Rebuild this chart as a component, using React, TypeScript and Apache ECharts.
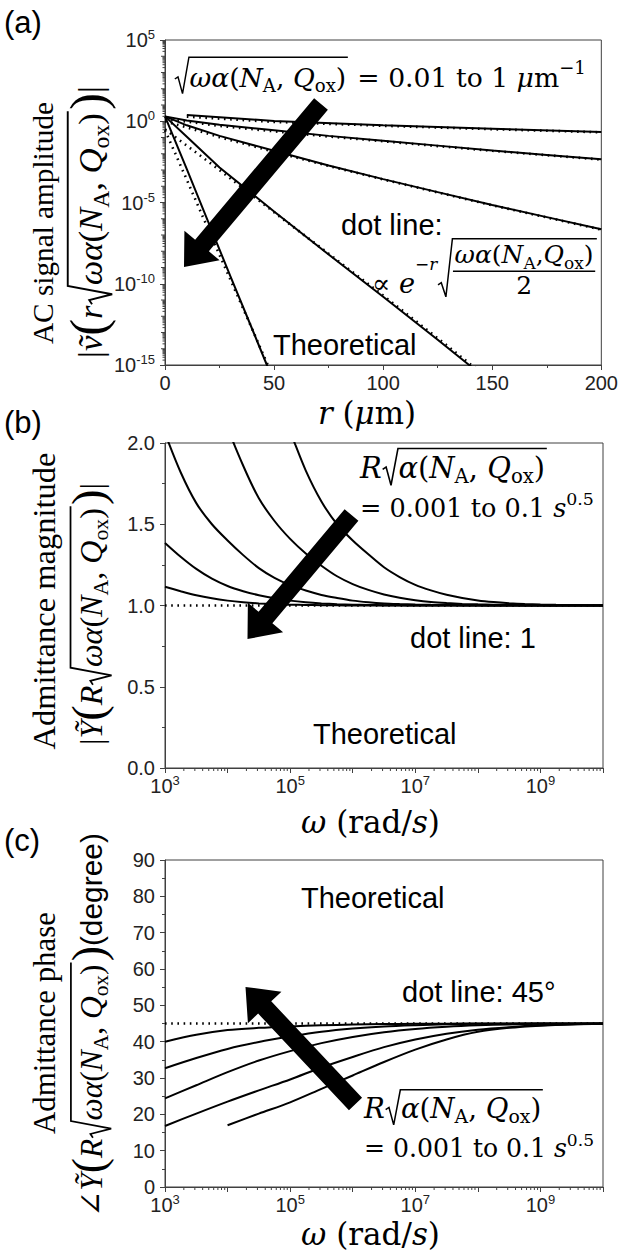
import React, { useEffect, useRef } from 'react';
import * as echarts from 'echarts';

const SERIF = "'DejaVu Serif', 'Liberation Serif', serif";
const TSERIF = "'Liberation Serif', 'DejaVu Serif', serif";
const SANS = "'Liberation Sans', Arial, sans-serif";
const INK = '#000000';
const AXIS = '#404040';
const LABEL = '#222222';

// ---------------- Panel (a): AC signal amplitude vs r ----------------
// r in μm, amplitude as log10 value
const aSolidR_k1 = [0, 10, 20, 30, 40, 46.7, 50];
const aSolidL_k1 = [0.3, -2.95, -6.25, -9.55, -12.8, -15, -16.1];
const aSolidR_k0316 = [0, 10, 25, 50, 75, 100, 125, 139.4, 150];
const aSolidL_k0316 = [0.3, -0.95, -2.85, -5.55, -8.2, -10.8, -13.45, -15, -16.1];
const aSolidR_k01 = [0, 10, 25, 50, 75, 100, 125, 150, 175, 200];
const aSolidL_k01 = [0.3, -0.25, -0.9, -1.82, -2.72, -3.56, -4.36, -5.15, -5.9, -6.65];
const aSolidR_k00316 = [0, 10, 25, 50, 75, 100, 125, 150, 175, 200];
const aSolidL_k00316 = [0.3, 0.05, -0.22, -0.56, -0.9, -1.2, -1.5, -1.8, -2.07, -2.34];
const aSolidR_k001 = [10, 50, 100, 150, 200];
const aSolidL_k001 = [0.38, 0.02, -0.24, -0.46, -0.66];

const aDotR_k1 = [0, 10, 20, 30, 40, 50];
const aDotL_k1 = [-0.55, -3.6, -6.7, -9.75, -12.8, -15.9];
const aDotR_k0316 = [0, 25, 50, 75, 100, 125, 140, 150];
const aDotL_k0316 = [-0.5, -3.0, -5.6, -8.15, -10.72, -13.35, -14.95, -15.95];
const aDotR_k01 = [0, 10, 25, 50, 75, 100, 125, 150, 175, 200];
const aDotL_k01 = [0.0, -0.38, -0.98, -1.88, -2.75, -3.58, -4.38, -5.17, -5.92, -6.67];
const aDotR_k00316 = [0, 10, 25, 50, 75, 100, 125, 150, 175, 200];
const aDotL_k00316 = [0.12, -0.02, -0.29, -0.62, -0.94, -1.23, -1.53, -1.82, -2.09, -2.36];
const aDotR_k001 = [10, 50, 100, 150, 200];
const aDotL_k001 = [0.28, -0.04, -0.28, -0.49, -0.68];

// ---------------- Panel (b): admittance magnitude vs ω ----------------
const bOmega = [1e3, 1.778e3, 3.162e3, 5.623e3, 1e4, 1.778e4, 3.162e4, 5.623e4, 1e5, 1.778e5, 3.162e5, 5.623e5,
  1e6, 1.778e6, 3.162e6, 5.623e6, 1e7, 1.778e7, 3.162e7, 5.623e7, 1e8, 1.778e8, 3.162e8, 5.623e8,
  1e9, 1.778e9, 3.162e9, 5.623e9, 1e10];
const bMag_01 = [null, null, null, null, null, null, null, 2.3, 2.07, 1.83, 1.64, 1.5, 1.40, 1.315, 1.235, 1.175,
  1.127, 1.093, 1.066, 1.046, 1.031, 1.021, 1.014, 1.009, 1.006, 1.004, 1.003, 1.002, 1.001];
const bMag_00316 = [null, null, null, 2.45, 2.1, 1.86, 1.66, 1.52, 1.41, 1.32, 1.245, 1.18, 1.132, 1.096, 1.068,
  1.048, 1.033, 1.022, 1.015, 1.01, 1.007, 1.005, 1.003, 1.002, 1.001, 1.0, 1.0, 1.0, 1.0];
const bMag_001 = [2.06, 1.82, 1.63, 1.5, 1.40, 1.31, 1.23, 1.17, 1.125, 1.092, 1.065, 1.046, 1.03, 1.02, 1.013,
  1.009, 1.006, 1.004, 1.003, 1.002, 1.001, 1.0, 1.0, 1.0, 1.0, 1.0, 1.0, 1.0, 1.0];
const bMag_000316 = [1.385, 1.30, 1.225, 1.165, 1.12, 1.088, 1.063, 1.044, 1.03, 1.02, 1.013, 1.008, 1.005, 1.003,
  1.002, 1.001, 1.0, 1.0, 1.0, 1.0, 1.0, 1.0, 1.0, 1.0, 1.0, 1.0, 1.0, 1.0, 1.0];
const bMag_0001 = [1.115, 1.088, 1.063, 1.044, 1.03, 1.02, 1.013, 1.008, 1.005, 1.003, 1.002, 1.001, 1.0, 1.0,
  1.0, 1.0, 1.0, 1.0, 1.0, 1.0, 1.0, 1.0, 1.0, 1.0, 1.0, 1.0, 1.0, 1.0, 1.0];
const bDotOmega = [1e3, 1e10];
const bDotValue = [1, 1];

// ---------------- Panel (c): admittance phase vs ω ----------------
const cOmega = [1e3, 3.162e3, 1e4, 3.162e4, 1e5, 3.162e5, 1e6, 3.162e6, 1e7, 3.162e7, 1e8, 3.162e8, 1e9, 3.162e9, 1e10];
const cPh_0001 = [40.0, 41.9, 43.2, 43.8, 44.2, 44.5, 44.7, 44.85, 44.92, 44.96, 45, 45, 45, 45, 45];
const cPh_000316 = [32.7, 35.5, 38.0, 39.9, 41.4, 42.7, 43.6, 44.2, 44.55, 44.8, 44.9, 44.95, 45, 45, 45];
const cPh_001 = [24.4, 28.0, 31.6, 34.8, 37.4, 39.6, 41.3, 42.6, 43.5, 44.1, 44.5, 44.75, 44.9, 44.95, 45];
const cPh_00316 = [16.8, 20.2, 23.5, 26.6, 29.6, 32.9, 35.8, 38.5, 40.6, 42.2, 43.3, 44.0, 44.5, 44.8, 44.9];
const cPh_01 = [null, null, 17.0, 20.2, 23.3, 27.0, 30.7, 34.4, 37.8, 40.6, 42.7, 43.8, 44.4, 44.75, 44.9];
const cDotOmega = [1e3, 1e10];
const cDotValue = [45, 45];

// ---------------- text measurement / tiny math layout ----------------
let _ctx: CanvasRenderingContext2D | null = null;
function measure(text: string, font: string): number {
  if (!_ctx) _ctx = document.createElement('canvas').getContext('2d');
  _ctx!.font = font;
  return _ctx!.measureText(text).width;
}

type MN = any;
const T = (t: string, o: any = {}) => ({ k: 't', t, ...o });
const I = (t: string, o: any = {}) => ({ k: 't', t, it: true, ...o });
const SUB = (t: string, f = 1) => ({ k: 't', t, s: 0.68 * f, dy: 0.2 * f });
const SUP = (t: string, o: any = {}) => ({ k: 't', t, s: 0.68, dy: -0.45, ...o });
const SQRT = (c: MN[], o: any = {}) => ({ k: 'sqrt', c, ...o });
const FRAC = (n: MN[], dn: MN[], o: any = {}) => ({ k: 'frac', n, dn, ...o });
const radicand = (f = 1, sep = ', ', withOmega = true) => [
  ...(withOmega ? [I('ω', { s: f })] : []),
  I('α', { s: f }), T('(', { s: f }), I('N', { s: f }), SUB('A', f), T(sep, { s: f }), I('Q', { s: f }), SUB('ox', f), T(')', { s: f }),
];

function lay(nodes: MN[], S: number, x: number, B: number, out: any[] | null, fam: string): number {
  const lw = Math.max(1.1, 0.055 * S);
  for (const n of nodes) {
    if (n.k === 't') {
      const size = S * (n.s ?? 1);
      const font = `${n.it ? 'italic ' : ''}${size.toFixed(2)}px ${n.ff ?? fam}`;
      const w = measure(n.t, font);
      if (out) {
        out.push({
          type: 'text', x, y: B + (n.dy ?? 0) * S - 0.35 * size, z: 100, silent: true,
          style: { text: n.t, font, fill: INK, align: 'left', verticalAlign: 'middle', textAlign: 'left', textVerticalAlign: 'middle' },
        });
      }
      x += w;
    } else if (n.k === 'sp') {
      x += n.w * S;
    } else if (n.k === 'sqrt') {
      const rw = 0.58 * S;
      const xe = lay(n.c, S, x + rw, B, out, fam);
      const top = B - (n.h ?? 0.98) * S;
      const bot = B + (n.d ?? 0.22) * S;
      if (out) {
        out.push({
          type: 'polyline', z: 100, silent: true,
          shape: { points: [[x + 0.03 * S, B - 0.3 * S], [x + 0.15 * S, B - 0.38 * S], [x + 0.32 * S, bot], [x + rw - 0.02 * S, top], [xe + 0.06 * S, top]] },
          style: { stroke: INK, lineWidth: lw, fill: null },
        });
      }
      x = xe + 0.1 * S;
    } else if (n.k === 'frac') {
      const wn = lay(n.n, S, 0, 0, null, fam);
      const wd = lay(n.dn, S, 0, 0, null, fam);
      const w = Math.max(wn, wd) + 0.12 * S;
      lay(n.n, S, x + (w - wn) / 2, B - (n.nb ?? 1.0) * S, out, fam);
      lay(n.dn, S, x + (w - wd) / 2, B - (n.db ?? 0) * S, out, fam);
      if (out) {
        const yb = B - (n.bar ?? 0.78) * S;
        out.push({ type: 'line', z: 100, silent: true, shape: { x1: x, y1: yb, x2: x + w, y2: yb }, style: { stroke: INK, lineWidth: lw } });
      }
      x += w;
    }
  }
  return x;
}

function mathGroup(nodes: MN[], opt: any) {
  const fam = opt.ff ?? SERIF;
  const w1 = lay(nodes, 100, 0, 0, null, fam) / 100;
  const S = opt.width ? opt.width / w1 : opt.S;
  const els: any[] = [];
  if (opt.rot) {
    const W = w1 * S;
    lay(nodes, S, -W / 2, 0.33 * S, els, fam);
    return { type: 'group', x: opt.cx, y: opt.cy, rotation: Math.PI / 2, children: els, z: 100 };
  }
  const x0 = opt.cx != null ? opt.cx - (w1 * S) / 2 : opt.x;
  lay(nodes, S, x0, opt.B, els, fam);
  return { type: 'group', children: els, z: 100 };
}

function sansText(text: string, x: number, baseline: number, size: number) {
  return {
    type: 'text', x, y: baseline - 0.35 * size, z: 100, silent: true,
    style: { text, font: `${size}px ${SANS}`, fill: INK, align: 'left', verticalAlign: 'middle', textAlign: 'left', textVerticalAlign: 'middle' },
  };
}

function arrow(tail: number[], tip: number[], sw = 18, hw = 46, hl = 28) {
  const dx = tip[0] - tail[0], dy = tip[1] - tail[1];
  const L = Math.hypot(dx, dy);
  const ux = dx / L, uy = dy / L, nx = -uy, ny = ux;
  const bx = tip[0] - ux * hl, by = tip[1] - uy * hl;
  const p = (cx: number, cy: number, k: number) => [cx + nx * k, cy + ny * k];
  return {
    type: 'polygon', z: 110, silent: true,
    shape: { points: [p(tail[0], tail[1], sw / 2), p(bx, by, sw / 2), p(bx, by, hw / 2), tip, p(bx, by, -hw / 2), p(bx, by, -sw / 2), p(tail[0], tail[1], -sw / 2)] },
    style: { fill: INK },
  };
}

// ---------------- axes helpers ----------------
const supRich = {
  b: { fontFamily: SANS, fontSize: 20, color: LABEL, lineHeight: 24, verticalAlign: 'middle' },
  s: { fontFamily: SANS, fontSize: 13, color: LABEL, lineHeight: 12, verticalAlign: 'top' },
};
const logLabel = (only?: (e: number) => boolean) => (v: number) => {
  const e = Math.round(Math.log10(v));
  if (only && !only(e)) return '';
  return `{b|10}{s|${e}}`;
};
const axisBase = {
  axisLine: { show: true, lineStyle: { color: AXIS, width: 1 } },
  axisTick: { show: true, length: 5, inside: false, lineStyle: { color: AXIS, width: 1 } },
  splitLine: { show: false },
};

function tickSeries(xi: number, yi: number, data: number[][], dir: string) {
  return {
    type: 'custom', xAxisIndex: xi, yAxisIndex: yi, data, clip: false, silent: true, z: 5,
    renderItem: (_p: any, api: any) => {
      const pt = api.coord([api.value(0), api.value(1)]);
      const len = api.value(2);
      const shape = dir === 'down'
        ? { x1: pt[0], y1: pt[1], x2: pt[0], y2: pt[1] + len }
        : { x1: pt[0] - len, y1: pt[1], x2: pt[0], y2: pt[1] };
      return { type: 'line', shape, style: { stroke: AXIS, lineWidth: 1 } };
    },
  };
}

function lineSeries(xi: number, xs: number[], ys: (number | null)[], dotted = false, smooth: any = false, logY = false) {
  return {
    type: 'line', xAxisIndex: xi, yAxisIndex: xi, showSymbol: false, symbol: 'none', smooth, clip: true, silent: true,
    data: xs.map((x, i) => [x, ys[i] == null ? null : logY ? Math.pow(10, ys[i] as number) : ys[i]]),
    connectNulls: false,
    lineStyle: dotted ? { color: INK, width: 2.6, type: [1.6, 4.6] } : { color: INK, width: 2 },
    z: dotted ? 3 : 4,
  };
}

function buildOption() {
  // log-axis minor ticks (2..9 per decade)
  const aMinor: number[][] = [];
  for (let e = -15; e < 5; e++) {
    if (e % 5 !== 0) aMinor.push([0, Math.pow(10, e), 4]);
    for (let m = 2; m <= 9; m++) aMinor.push([0, m * Math.pow(10, e), 2.5]);
  }
  const wMinor: number[][] = [];
  for (let e = 3; e < 10; e++) for (let m = 2; m <= 9; m++) wMinor.push([m * Math.pow(10, e), 0, 3]);

  const rad = radicand(1, ', ');
  const bigL = T('(', { s: 1.45, dy: 0.08 });
  const bigR = T(')', { s: 1.45, dy: 0.08 });
  const graphic: any[] = [
    sansText('(a)', 4, 33, 31),
    sansText('(b)', 4, 433, 31),
    sansText('(c)', 4, 851, 31),
    // panel a
    mathGroup([SQRT(radicand(1, ', '), { h: 1.12, d: 0.25 }), T(' = 0.01 to 1 '), I('μ'), T('m'), SUP('−1', { dy: -0.5 })], { x: 174, B: 87, width: 412 }),
    sansText('dot line:', 341, 235, 29),
    mathGroup([T('∝ '), I('e'), SUP('−', { s: 0.62, dy: -0.85 }), I('r', { s: 0.62, dy: -0.85 }),
      SQRT([FRAC(radicand(0.92, ','), [T('2', { s: 0.92 })], { nb: 1.08, bar: 0.8, db: -0.06 })], { h: 2.0, d: 0.14 })],
      { x: 372, B: 293, width: 226 }),
    sansText('Theoretical', 273, 355, 29),
    mathGroup([I('r'), T(' ('), I('μ'), T('m)')], { x: 318, B: 424, width: 98 }),
    mathGroup([T('AC signal amplitude')], { rot: true, cx: 44, cy: 223, width: 242, ff: TSERIF }),
    mathGroup([T('|'), I('ṽ'), bigL, I('r'), SQRT(rad, { h: 1.0, d: 0.28 }), bigR, T('|')],
      { rot: true, cx: 91, cy: 222, width: 272, ff: TSERIF }),
    arrow([321, 104], [184, 267]),
    // panel b
    mathGroup([I('R'), SQRT(radicand(1, ', ', false), { h: 1.02, d: 0.25 })], { x: 360, B: 478, width: 188 }),
    mathGroup([T('= 0.001 to 0.1 '), I('s'), SUP('0.5')], { x: 360, B: 517, width: 234 }),
    sansText('dot line: 1', 410, 648, 29),
    sansText('Theoretical', 313, 744, 29),
    mathGroup([I('ω'), T(' (rad/'), I('s'), T(')')], { x: 301, B: 833, width: 139 }),
    mathGroup([T('Admittance magnitude')], { rot: true, cx: 45, cy: 601, width: 297, ff: TSERIF }),
    mathGroup([T('|'), I('Ỹ'), bigL, I('R'), SQRT(rad, { h: 1.0, d: 0.28 }), bigR, T('|')],
      { rot: true, cx: 92, cy: 614, width: 262, ff: TSERIF }),
    arrow([351.5, 515], [247.5, 639]),
    // panel c
    sansText('Theoretical', 301, 908, 29),
    sansText('dot line: 45°', 402, 1002, 29),
    mathGroup([I('R'), SQRT(radicand(1, ', ', false), { h: 1.02, d: 0.25 })], { x: 364, B: 1118, width: 180 }),
    mathGroup([T('= 0.001 to 0.1 '), I('s'), SUP('0.5')], { x: 364, B: 1157, width: 230 }),
    mathGroup([I('ω'), T(' (rad/'), I('s'), T(')')], { x: 301, B: 1245, width: 139 }),
    mathGroup([T('Admittance phase')], { rot: true, cx: 45, cy: 1023, width: 222, ff: TSERIF }),
    mathGroup([T('∠'), I('Ỹ'), bigL, I('R'), SQRT(rad, { h: 1.0, d: 0.28 }), bigR, T('(degree)', { ff: SANS, s: 0.95 })],
      { rot: true, cx: 92, cy: 1025, width: 384, ff: TSERIF }),
    arrow([355.5, 1104], [245.5, 987]),
  ];

  const grid = [
    { left: 165, top: 40, width: 439, height: 325 },
    { left: 165, top: 443, width: 438, height: 325 },
    { left: 165, top: 860, width: 438, height: 327 },
  ].map((g) => ({ ...g, show: true, borderColor: AXIS, borderWidth: 1, backgroundColor: 'transparent' }));

  const xAxis = [
    {
      ...axisBase, gridIndex: 0, type: 'value', min: 0, max: 200, interval: 50,
      minorTick: { show: true, splitNumber: 2, length: 3, lineStyle: { color: AXIS } },
      axisLabel: { fontFamily: SANS, fontSize: 20, color: LABEL, margin: 8 },
    },
    {
      ...axisBase, gridIndex: 1, type: 'log', logBase: 10, min: 1e3, max: 1e10, interval: 1,
      axisLabel: { formatter: logLabel((e) => e % 2 === 1), rich: supRich, margin: 6 },
    },
    {
      ...axisBase, gridIndex: 2, type: 'log', logBase: 10, min: 1e3, max: 1e10, interval: 1,
      axisLabel: { formatter: logLabel((e) => e % 2 === 1), rich: supRich, margin: 6 },
    },
  ];
  const yAxis = [
    {
      ...axisBase, gridIndex: 0, type: 'log', logBase: 10, min: 1e-15, max: 1e5, interval: 5,
      axisLabel: { formatter: logLabel(), rich: supRich, margin: 10 },
    },
    {
      ...axisBase, gridIndex: 1, type: 'value', min: 0, max: 2, interval: 0.5,
      minorTick: { show: true, splitNumber: 2, length: 3, lineStyle: { color: AXIS } },
      axisLabel: { fontFamily: SANS, fontSize: 20, color: LABEL, margin: 10, formatter: (v: number) => v.toFixed(1) },
    },
    {
      ...axisBase, gridIndex: 2, type: 'value', min: 0, max: 90, interval: 10,
      minorTick: { show: true, splitNumber: 2, length: 3, lineStyle: { color: AXIS } },
      axisLabel: { fontFamily: SANS, fontSize: 20, color: LABEL, margin: 10 },
    },
  ];

  const series: any[] = [
    lineSeries(0, aSolidR_k1, aSolidL_k1, false, false, true),
    lineSeries(0, aSolidR_k0316, aSolidL_k0316, false, false, true),
    lineSeries(0, aSolidR_k01, aSolidL_k01, false, false, true),
    lineSeries(0, aSolidR_k00316, aSolidL_k00316, false, false, true),
    lineSeries(0, aSolidR_k001, aSolidL_k001, false, false, true),
    lineSeries(0, aDotR_k1, aDotL_k1, true, false, true),
    lineSeries(0, aDotR_k0316, aDotL_k0316, true, false, true),
    lineSeries(0, aDotR_k01, aDotL_k01, true, false, true),
    lineSeries(0, aDotR_k00316, aDotL_k00316, true, false, true),
    lineSeries(0, aDotR_k001, aDotL_k001, true, false, true),

    lineSeries(1, bOmega, bMag_01, false, 0.3),
    lineSeries(1, bOmega, bMag_00316, false, 0.3),
    lineSeries(1, bOmega, bMag_001, false, 0.3),
    lineSeries(1, bOmega, bMag_000316, false, 0.3),
    lineSeries(1, bOmega, bMag_0001, false, 0.3),
    lineSeries(1, bDotOmega, bDotValue, true),

    lineSeries(2, cOmega, cPh_0001, false, 0.3),
    lineSeries(2, cOmega, cPh_000316, false, 0.3),
    lineSeries(2, cOmega, cPh_001, false, 0.3),
    lineSeries(2, cOmega, cPh_00316, false, 0.3),
    lineSeries(2, cOmega, cPh_01, false, 0.3),
    lineSeries(2, cDotOmega, cDotValue, true),

    tickSeries(0, 0, aMinor, 'left'),
    tickSeries(1, 1, wMinor, 'down'),
    tickSeries(2, 2, wMinor, 'down'),
  ];

  return { animation: false, backgroundColor: '#ffffff', grid, xAxis, yAxis, series, graphic };
}

export default function App() {
  const ref = useRef<HTMLDivElement>(null);
  useEffect(() => {
    document.body.style.margin = '0';
    const chart = echarts.init(ref.current!, undefined, { renderer: 'svg' });
    chart.setOption(buildOption() as any);
    return () => chart.dispose();
  }, []);
  return <div ref={ref} style={{ position: 'absolute', left: 0, top: 0, width: 621, height: 1259, background: '#fff' }} />;
}
